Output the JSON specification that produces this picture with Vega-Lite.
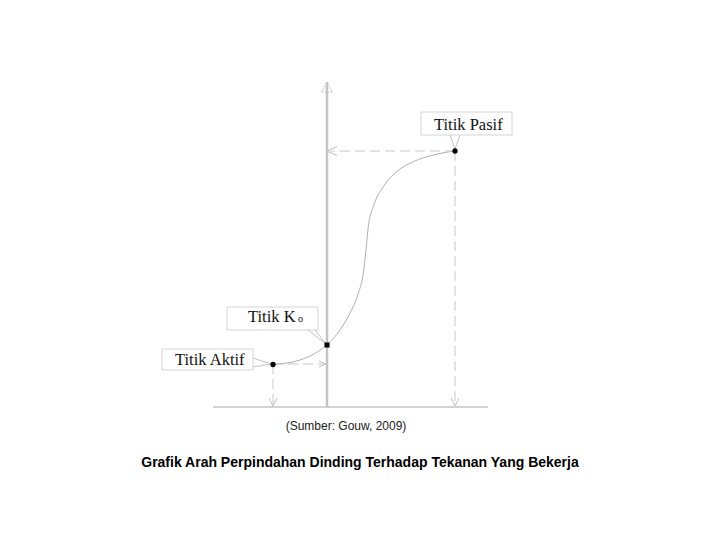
{
  "$schema": "https://vega.github.io/schema/vega-lite/v6.json",
  "width": 720,
  "height": 540,
  "autosize": {"type": "fit", "contains": "padding"},
  "padding": 0,
  "background": "white",
  "config": {"view": {"stroke": null}},
  "datasets": {
    "vaxis": [{"x": 0, "y": 0, "x2": 0, "y2": 325}],
    "haxis": [{"x": -114, "y": 0, "x2": 161, "y2": 0}],
    "topArrow": [
      {"x": -5.5, "y": 315, "x2": 0, "y2": 325},
      {"x": 0, "y": 325, "x2": 5.5, "y2": 315},
      {"x": -5.5, "y": 315, "x2": 5.5, "y2": 315}
    ],
    "dashed": [
      {"x": 128, "y": 256, "x2": 3, "y2": 256},
      {"x": 128, "y": 256, "x2": 128, "y2": 1},
      {"x": -54, "y": 43, "x2": -1, "y2": 43},
      {"x": -54, "y": 43, "x2": -54, "y2": 1}
    ],
    "arrowheads": [
      {"x": 0, "y": 256, "x2": 10, "y2": 260.5},
      {"x": 0, "y": 256, "x2": 10, "y2": 251.5},
      {"x": -1, "y": 43, "x2": -8, "y2": 46},
      {"x": -1, "y": 43, "x2": -8, "y2": 40},
      {"x": -54, "y": 1, "x2": -58, "y2": 9},
      {"x": -54, "y": 1, "x2": -50, "y2": 9},
      {"x": 128, "y": 1, "x2": 124, "y2": 9},
      {"x": 128, "y": 1, "x2": 132, "y2": 9}
    ],
    "curve": [
      {"x": -54, "y": 42.5},
      {"x": -27, "y": 47},
      {"x": -13.7, "y": 52.7},
      {"x": 0, "y": 62.3},
      {"x": 13, "y": 77},
      {"x": 23, "y": 94},
      {"x": 31.3, "y": 113.7},
      {"x": 36.3, "y": 133.7},
      {"x": 39, "y": 157},
      {"x": 41.3, "y": 180.3},
      {"x": 46.3, "y": 200.3},
      {"x": 56.3, "y": 220.3},
      {"x": 69.7, "y": 235.3},
      {"x": 86.3, "y": 245.3},
      {"x": 106.3, "y": 252},
      {"x": 128, "y": 256}
    ],
    "boxes": [
      {"x": 94, "y": 272, "x2": 185, "y2": 295},
      {"x": -100, "y": 77, "x2": -9, "y2": 100},
      {"x": -165, "y": 37, "x2": -74, "y2": 58}
    ],
    "leaders": [
      {"x": 123, "y": 272, "x2": 128, "y2": 258},
      {"x": 133, "y": 272, "x2": 128, "y2": 258},
      {"x": -19, "y": 77, "x2": -1, "y2": 63},
      {"x": -12, "y": 77, "x2": -1, "y2": 63},
      {"x": -74, "y": 49, "x2": -56, "y2": 43},
      {"x": -74, "y": 40, "x2": -56, "y2": 43}
    ],
    "circles": [
      {"name": "Titik Pasif", "x": 128, "y": 256},
      {"name": "Titik Aktif", "x": -54, "y": 42.5}
    ],
    "squares": [{"name": "Titik Ko", "x": 0, "y": 62}],
    "labels": [
      {"text": "Titik Pasif", "x": 107, "y": 277},
      {"text": "Titik K", "x": -79, "y": 85},
      {"text": "Titik Aktif", "x": -152, "y": 42}
    ],
    "subscript": [{"text": "o", "x": -29, "y": 85}],
    "source": [{"text": "(Sumber: Gouw, 2009)", "x": 19, "y": -23}],
    "title": [{"text": "Grafik Arah Perpindahan Dinding Terhadap Tekanan Yang Bekerja", "x": 33, "y": -60}]
  },
  "encoding": {
    "x": {"field": "x", "type": "quantitative", "scale": {"domain": [-327, 393], "nice": false, "zero": false}, "axis": null},
    "y": {"field": "y", "type": "quantitative", "scale": {"domain": [-133, 407], "nice": false, "zero": false}, "axis": null}
  },
  "layer": [
    {"data": {"name": "vaxis"}, "mark": {"type": "rule", "color": "#c4c4c4", "strokeWidth": 2.5}, "encoding": {"x2": {"field": "x2"}, "y2": {"field": "y2"}}},
    {"data": {"name": "haxis"}, "mark": {"type": "rule", "color": "#c4c4c4", "strokeWidth": 1.5}, "encoding": {"x2": {"field": "x2"}, "y2": {"field": "y2"}}},
    {"data": {"name": "topArrow"}, "mark": {"type": "rule", "color": "#c8c8c8", "strokeWidth": 1, "strokeDash": [2, 1]}, "encoding": {"x2": {"field": "x2"}, "y2": {"field": "y2"}}},
    {"data": {"name": "dashed"}, "mark": {"type": "rule", "color": "#c8c8c8", "strokeWidth": 1, "strokeDash": [10, 5]}, "encoding": {"x2": {"field": "x2"}, "y2": {"field": "y2"}}},
    {"data": {"name": "arrowheads"}, "mark": {"type": "rule", "color": "#c0c0c0", "strokeWidth": 1}, "encoding": {"x2": {"field": "x2"}, "y2": {"field": "y2"}}},
    {"data": {"name": "curve"}, "mark": {"type": "line", "color": "#b0b0b0", "strokeWidth": 1, "interpolate": "monotone"}, "encoding": {"order": {"field": "x", "type": "quantitative"}}},
    {"data": {"name": "boxes"}, "mark": {"type": "rect", "fill": "white", "stroke": "#d4d4d4", "strokeWidth": 1}, "encoding": {"x2": {"field": "x2"}, "y2": {"field": "y2"}}},
    {"data": {"name": "leaders"}, "mark": {"type": "rule", "color": "#c4c4c4", "strokeWidth": 1}, "encoding": {"x2": {"field": "x2"}, "y2": {"field": "y2"}}},
    {"data": {"name": "circles"}, "mark": {"type": "point", "shape": "circle", "filled": true, "color": "black", "size": 28, "opacity": 1}, "encoding": {}},
    {"data": {"name": "squares"}, "mark": {"type": "point", "shape": "square", "filled": true, "color": "black", "size": 26, "opacity": 1}, "encoding": {}},
    {"data": {"name": "labels"}, "mark": {"type": "text", "align": "left", "baseline": "alphabetic", "font": "Liberation Serif", "fontSize": 16.5, "color": "#111111"}, "encoding": {"text": {"field": "text"}}},
    {"data": {"name": "subscript"}, "mark": {"type": "text", "align": "left", "baseline": "alphabetic", "font": "Liberation Serif", "fontSize": 10, "color": "#111111"}, "encoding": {"text": {"field": "text"}}},
    {"data": {"name": "source"}, "mark": {"type": "text", "align": "center", "baseline": "alphabetic", "font": "Liberation Sans", "fontSize": 12, "color": "#222222"}, "encoding": {"text": {"field": "text"}}},
    {"data": {"name": "title"}, "mark": {"type": "text", "align": "center", "baseline": "alphabetic", "font": "Liberation Sans", "fontSize": 14, "fontWeight": "bold", "color": "black"}, "encoding": {"text": {"field": "text"}}}
  ]
}
